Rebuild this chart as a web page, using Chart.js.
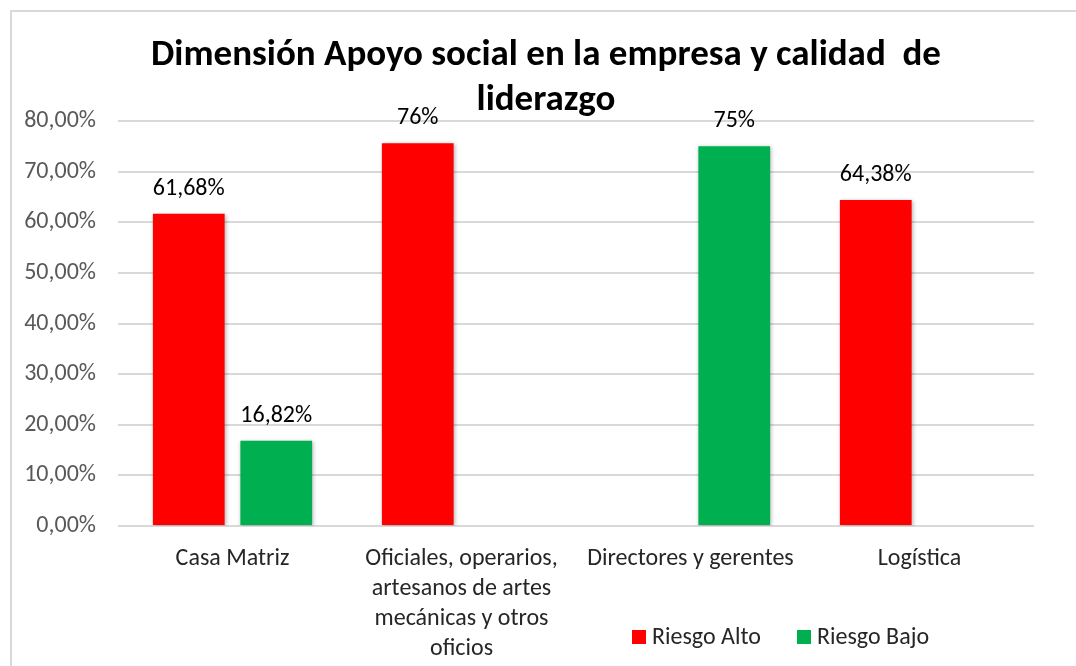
<!DOCTYPE html>
<html>
<head>
<meta charset="utf-8">
<script src="https://cdn.jsdelivr.net/npm/chart.js@4/dist/chart.umd.min.js"></script>
<style>
  html, body { margin: 0; padding: 0; background: #fff; }
  .wrap { position: relative; width: 1076px; height: 666px; }
</style>
</head>
<body>
<div class="wrap"><canvas id="apoyoChart" width="1076" height="666"></canvas></div>
<script>
// Data
const categorias = [
    'Casa Matriz',
    ['Oficiales, operarios,', 'artesanos de artes', 'mecánicas y otros', 'oficios'],
    'Directores y gerentes',
    'Logística'
];
const riesgoAlto = [61.68, 75.6, null, 64.38];
const riesgoBajo = [16.82, null, 75, null];
const etiquetasAlto = ['61,68%', '76%', '', '64,38%'];
const etiquetasBajo = ['16,82%', '', '75%', ''];
const tituloLineas = ['Dimensión Apoyo social en la empresa y calidad  de', 'liderazgo'];

const FONT = "Carlito, Lato, 'Liberation Sans', sans-serif";

// Title, border, value labels and legend drawn by hand
const decoPlugin = {
    id: 'deco',
    beforeDraw(chart) {
        const ctx = chart.ctx;
        ctx.save();
        ctx.fillStyle = '#fff';
        ctx.fillRect(0, 0, chart.width, chart.height);
        ctx.strokeStyle = '#d9d9d9';
        ctx.lineWidth = 2;
        ctx.beginPath();
        ctx.moveTo(11, chart.height);
        ctx.lineTo(11, 11);
        ctx.lineTo(chart.width, 11);
        ctx.stroke();
        ctx.restore();
    },
    beforeDatasetsDraw(chart) {
        chart.ctx.save();
        chart.ctx.shadowColor = 'rgba(0,0,0,0.3)';
        chart.ctx.shadowBlur = 4;
        chart.ctx.shadowOffsetX = 1;
        chart.ctx.shadowOffsetY = 1;
    },
    afterDatasetsDraw(chart) {
        chart.ctx.restore();
    },
    afterDraw(chart) {
        const ctx = chart.ctx;
        ctx.save();
        // title
        ctx.fillStyle = '#000';
        ctx.textAlign = 'center';
        ctx.textBaseline = 'middle';
        ctx.font = 'bold 37px ' + FONT;
        ctx.fillText(tituloLineas[0], 546, 56);
        ctx.fillText(tituloLineas[1], 546, 101);

        // value labels
        const textos = [etiquetasAlto, etiquetasBajo];
        ctx.font = '24px ' + FONT;
        chart.data.datasets.forEach((ds, i) => {
            const meta = chart.getDatasetMeta(i);
            meta.data.forEach((bar, j) => {
                if (ds.data[j] === null) return;
                ctx.fillText(textos[i][j], bar.x, bar.y - 25);
            });
        });

        // legend
        const leyenda = [
            { x: 632, ds: chart.data.datasets[0] },
            { x: 797, ds: chart.data.datasets[1] }
        ];
        ctx.textAlign = 'left';
        ctx.font = '24px ' + FONT;
        leyenda.forEach(item => {
            ctx.fillStyle = item.ds.backgroundColor;
            ctx.fillRect(item.x, 630, 14, 14);
            ctx.fillStyle = '#262626';
            ctx.fillText(item.ds.label, item.x + 20, 638);
        });
        ctx.restore();
    }
};

const ctx = document.getElementById('apoyoChart').getContext('2d');
const apoyoChart = new Chart(ctx, {
    type: 'bar',
    data: {
        labels: categorias,
        datasets: [
            { label: 'Riesgo Alto', data: riesgoAlto, backgroundColor: '#ff0000' },
            { label: 'Riesgo Bajo', data: riesgoBajo, backgroundColor: '#00b050' }
        ]
    },
    options: {
        responsive: false,
        animation: false,
        categoryPercentage: 0.764,
        barPercentage: 0.82,
        layout: { padding: { top: 121, right: 42, bottom: 0, left: 0 } },
        plugins: {
            legend: { display: false },
            title: { display: false },
            tooltip: { enabled: false }
        },
        scales: {
            x: {
                grid: { display: false },
                border: { display: false },
                ticks: {
                    color: '#262626',
                    font: { family: FONT, size: 24, lineHeight: 1.25 },
                    padding: 10,
                    maxRotation: 0,
                    autoSkip: false
                },
                afterFit(scale) { scale.height = 140; }
            },
            y: {
                min: 0,
                max: 80,
                grid: { color: '#d9d9d9', lineWidth: 2, drawTicks: false },
                border: { display: false },
                ticks: {
                    stepSize: 10,
                    color: '#595959',
                    padding: 22,
                    font: { family: FONT, size: 24 },
                    callback: v => v.toFixed(2).replace('.', ',') + '%'
                },
                afterFit(scale) { scale.width = 118; }
            }
        }
    },
    plugins: [decoPlugin]
});
</script>
</body>
</html>
